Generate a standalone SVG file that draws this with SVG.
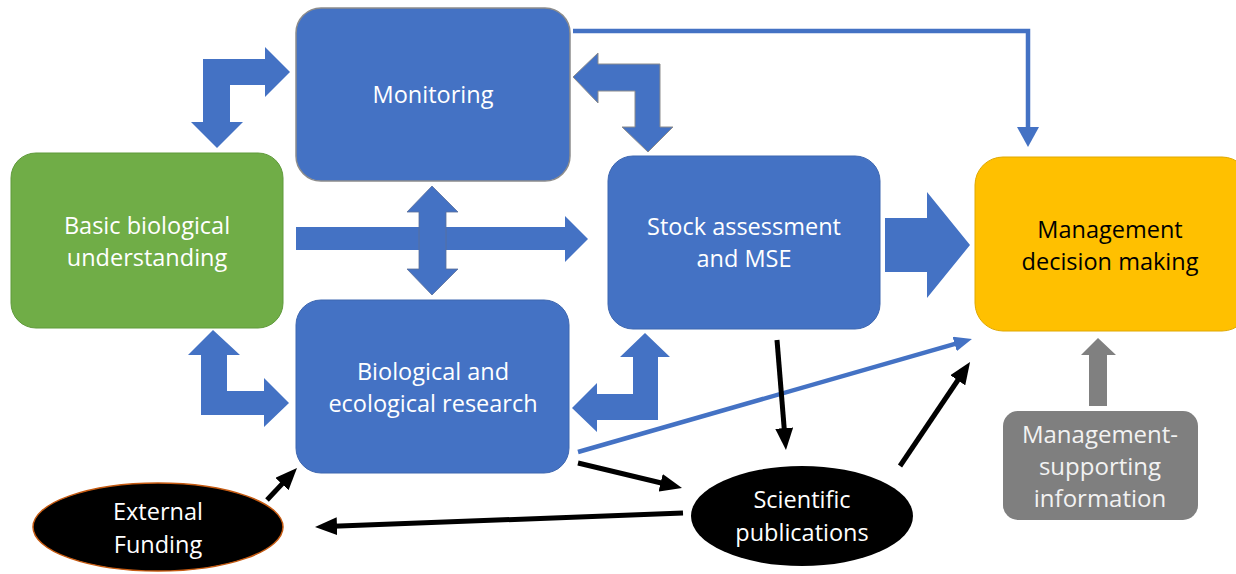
<svg xmlns="http://www.w3.org/2000/svg" width="1236" height="574" viewBox="0 0 1236 574">
<style>
.t{font-family:"Open Sans","Noto Sans","Liberation Sans",sans-serif;font-size:23.5px;text-anchor:middle}
.w{fill:#ffffff}
.k{fill:#000000}
.g{fill:#f2f2f2;font-size:24px}
.blk{fill:#4472C4}
.lnb{stroke:#4472C4;stroke-width:4.5;fill:none}
.lnk{stroke:#000;stroke-width:5;fill:none}
</style>
<defs>
<marker id="ahK" markerUnits="userSpaceOnUse" viewBox="0 0 22 18" markerWidth="22" markerHeight="18" refX="4" refY="9" orient="auto">
<path d="M0,0 L22,9 L0,18 Z" fill="#000"/>
</marker>
<marker id="ahB" markerUnits="userSpaceOnUse" viewBox="0 0 20 22" markerWidth="20" markerHeight="22" refX="4" refY="11" orient="auto">
<path d="M0,0 L20,11 L0,22 Z" fill="#4472C4"/>
</marker>
<marker id="ahB2" markerUnits="userSpaceOnUse" viewBox="0 0 18 15" markerWidth="18" markerHeight="15" refX="4" refY="7.5" orient="auto">
<path d="M0,0 L18,7.5 L0,15 Z" fill="#4472C4"/>
</marker>
</defs>
<rect width="1236" height="574" fill="#ffffff"/>

<g id="connectors">
<path class="blk" d="M203,59 L265,59 L265,47 L290,72 L265,97 L265,85 L230,85 L230,122 L243,122 L217,148 L191,122 L203,122 Z"/>
<path class="blk" stroke="#8c8c8c" stroke-width="1" d="M573,77 L598,53 L598,64 L660,64 L660,127 L673,127 L648,152 L622,127 L635,127 L635,91 L598,91 L598,103 Z"/>
<path class="blk" d="M213,330 L240,355 L227,355 L227,391 L264,391 L264,378 L289,403 L264,427 L264,415 L201,415 L201,355 L188,355 Z"/>
<path class="blk" d="M645,333 L670,357 L658,357 L658,420 L597,420 L597,432 L572,408 L597,383 L597,394 L633,394 L633,357 L620,357 Z"/>
<path class="blk" d="M296,227 L565,227 L565,216 L588,239 L565,262 L565,250 L296,250 Z"/>
<path class="blk" stroke="#5a6f99" stroke-width="0.8" d="M432,186 L458,212 L446,212 L446,269 L458,269 L432,295 L407,269 L419,269 L419,212 L407,212 Z"/>
<path class="blk" d="M885,218 L927,218 L927,192 L970,245 L927,298 L927,272 L885,272 Z"/>
<path fill="#808080" d="M1098,338 L1116,355 L1107,355 L1107,406 L1089,406 L1089,355 L1081,355 Z"/>
<polyline class="lnb" points="573,31 1028,31 1028,131" marker-end="url(#ahB)"/>
<line class="lnb" x1="578" y1="452" x2="958.5" y2="342.9" marker-end="url(#ahB2)"/>
<line class="lnk" x1="777" y1="340" x2="784.5" y2="432.1" marker-end="url(#ahK)"/>
<line class="lnk" x1="578" y1="463" x2="664.5" y2="483.8" marker-end="url(#ahK)"/>
<line class="lnk" x1="900" y1="466" x2="960" y2="377" marker-end="url(#ahK)"/>
<line class="lnk" x1="683" y1="513" x2="333" y2="526.3" marker-end="url(#ahK)"/>
<line class="lnk" x1="267" y1="500" x2="284.7" y2="481.1" marker-end="url(#ahK)"/>
</g>

<g id="monitoring">
<rect x="296" y="8" width="274" height="173" rx="25" fill="#4472C4" stroke="#8c8c8c" stroke-width="1.5"/>
<text class="t w" x="433" y="103">Monitoring</text>
</g>
<g id="basic">
<rect x="11" y="153" width="272" height="175" rx="25" fill="#70AD47" stroke="#5f9a3a" stroke-width="1"/>
<text class="t w" x="147" y="234">Basic biological</text>
<text class="t w" x="147" y="266">understanding</text>
</g>
<g id="research">
<rect x="296" y="300" width="273" height="173" rx="25" fill="#4472C4" stroke="#3d66b0" stroke-width="1"/>
<text class="t w" x="433" y="380">Biological and</text>
<text class="t w" x="433" y="412">ecological research</text>
</g>
<g id="stock">
<rect x="608" y="156" width="272" height="173" rx="25" fill="#4472C4" stroke="#3d66b0" stroke-width="1"/>
<text class="t w" x="744" y="235">Stock assessment</text>
<text class="t w" x="744" y="267">and MSE</text>
</g>
<g id="management">
<rect x="975" y="157" width="275" height="174" rx="28" fill="#FFC000" stroke="#e0a800" stroke-width="1"/>
<text class="t k" x="1110" y="238">Management</text>
<text class="t k" x="1110" y="270">decision making</text>
</g>
<g id="supporting">
<rect x="1003" y="411" width="195" height="109" rx="15" fill="#7F7F7F"/>
<text class="t g" x="1100" y="443">Management-</text>
<text class="t g" x="1100" y="475">supporting</text>
<text class="t g" x="1100" y="507">information</text>
</g>
<g id="publications">
<ellipse cx="802" cy="516" rx="111" ry="50" fill="#000"/>
<text class="t w" x="802" y="508">Scientific</text>
<text class="t w" x="802" y="541">publications</text>
</g>
<g id="funding">
<ellipse cx="158" cy="527" rx="125" ry="44" fill="#000" stroke="#C55A11" stroke-width="1.5"/>
<text class="t w" x="158" y="520">External</text>
<text class="t w" x="158" y="553">Funding</text>
</g>
</svg>
